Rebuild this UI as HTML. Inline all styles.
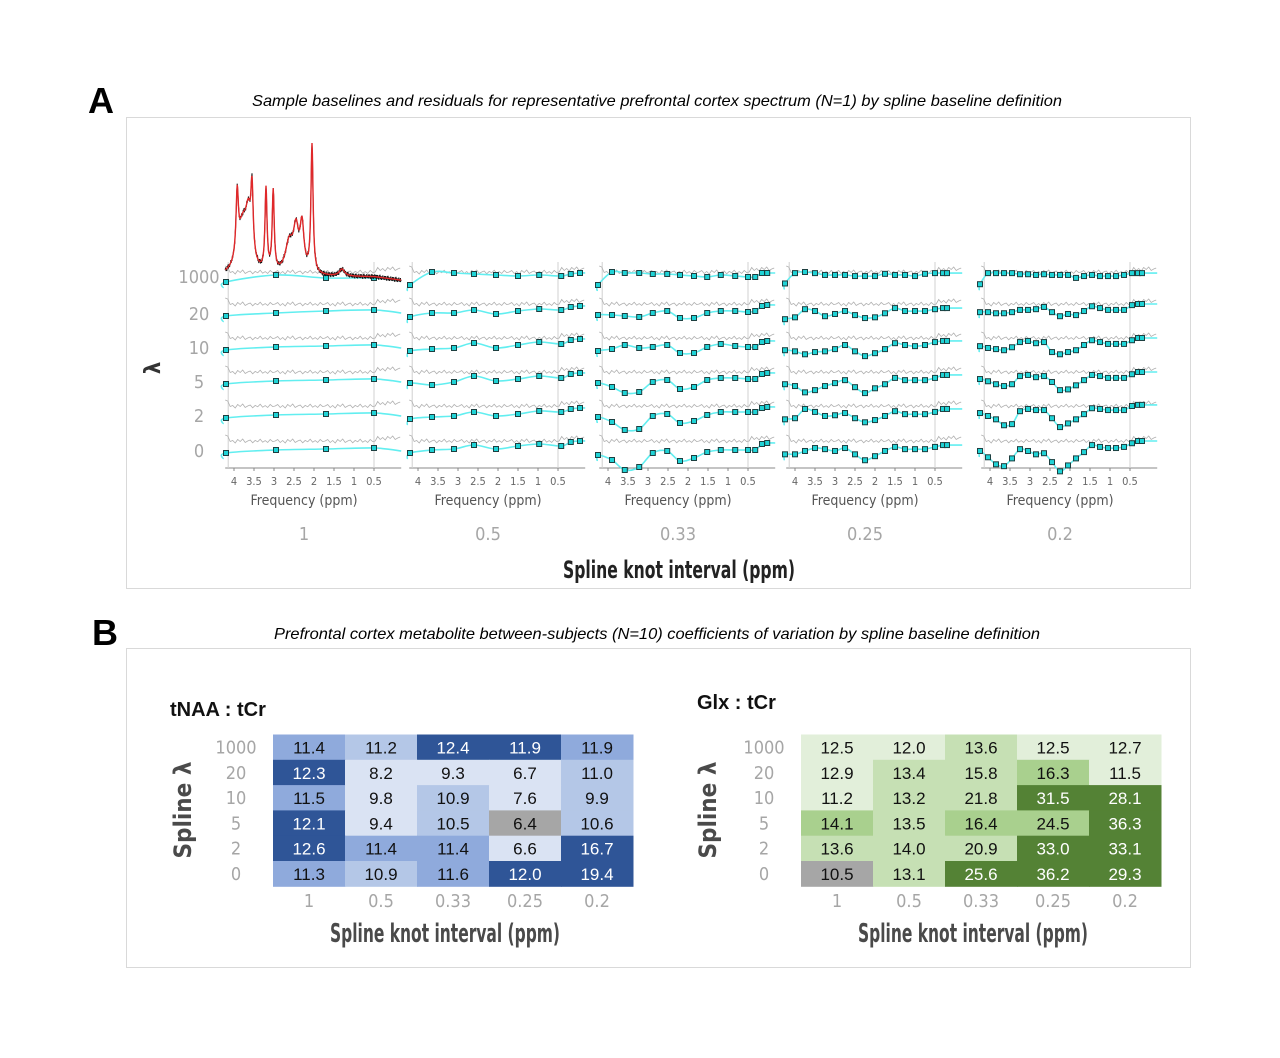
<!DOCTYPE html>
<html><head><meta charset="utf-8"><style>
html,body{margin:0;padding:0;background:#fff;}
svg{display:block;}
.nar{font-family:"Liberation Sans Narrow","DejaVu Sans Condensed","Liberation Sans",sans-serif;}
</style></head><body>
<svg id="fig" width="1280" height="1058" viewBox="0 0 1280 1058" xmlns="http://www.w3.org/2000/svg">
<rect width="1280" height="1058" fill="#fff"/>
<text x="88" y="113" font-family="Liberation Sans,sans-serif" font-weight="bold" font-size="36">A</text>
<text x="657" y="106" text-anchor="middle" font-family="Liberation Sans,sans-serif" font-style="italic" font-size="16" textLength="810" lengthAdjust="spacingAndGlyphs">Sample baselines and residuals for representative prefrontal cortex spectrum (N=1) by spline baseline definition</text>
<rect x="126.5" y="117.5" width="1064" height="471" fill="none" stroke="#d9d9d9"/>
<text x="92" y="645" font-family="Liberation Sans,sans-serif" font-weight="bold" font-size="36">B</text>
<text x="657" y="639" text-anchor="middle" font-family="Liberation Sans,sans-serif" font-style="italic" font-size="16" textLength="766" lengthAdjust="spacingAndGlyphs">Prefrontal cortex metabolite between-subjects (N=10) coefficients of variation by spline baseline definition</text>
<rect x="126.5" y="648.5" width="1064" height="319" fill="none" stroke="#d9d9d9"/>
<g id="ga"></g>
<g id="gb"></g>
</svg>
<script>
// ---------- Panel A data ----------
const intervals = ["1","0.5","0.33","0.25","0.2"];
const lambdas = ["1000","20","10","5","2","0"];
const freqTicks = [4,3.5,3,2.5,2,1.5,1,0.5];
const knotsP1 = [4.2,2.95,1.7,0.5];
const knotsP2 = [4.2,3.65,3.1,2.6,2.05,1.5,0.97,0.42,0.18,-0.05];
const knotsP3 = [4.25,3.9,3.58,3.22,2.88,2.52,2.2,1.85,1.52,1.18,0.82,0.5,0.32,0.15,0.02];
const knotsP4 = [4.25,4.0,3.75,3.5,3.25,3.0,2.75,2.5,2.25,2.0,1.75,1.5,1.25,1.0,0.75,0.5,0.3,0.2];
const knotsP5 = [4.25,4.05,3.85,3.65,3.45,3.25,3.05,2.85,2.65,2.45,2.25,2.05,1.85,1.65,1.45,1.25,1.05,0.85,0.65,0.45,0.3,0.2];
const baseP1 = [[10,3,6,6],[12,9,7,6],[12,9,8,7],[12,9,8,7],[12,9,8,7],[12,9,8,7]];
const baseP2 = [[13,0,1,2,3,4,3,4,2,1],[13,9,9,6,10,7,5,6,3,2],[13,11,10,5,10,7,4,6,2,1],[11,13,10,4,9,7,4,6,2,1],[13,11,10,6,10,8,5,6,3,2],[12,9,8,4,8,5,3,5,1,0]];
const baseP3 = [[13,0,1,1,2,2,3,4,5,3,4,5,5,1,1],[11,11,12,13,9,7,14,14,9,7,7,8,7,2,1],[13,11,7,10,9,7,15,15,9,6,8,9,9,4,3],[11,15,21,20,10,8,17,15,8,6,6,7,7,2,1],[11,16,24,23,10,8,17,15,9,6,6,6,6,2,1],[14,19,29,26,12,10,20,17,11,9,9,9,9,3,2]];
const baseP4 = [[31,3,0,3,8,8,8,11,11,11,5,8,8,11,5,3,3,3],[41,36,14,19,33,27,19,30,38,36,25,11,19,19,19,14,11,11],[33,36,44,38,36,30,19,36,49,41,30,14,19,22,19,11,8,8],[33,38,55,49,38,30,22,41,57,44,33,16,22,22,22,16,8,8],[36,33,8,16,27,25,19,33,44,38,27,14,22,22,22,16,8,8],[36,36,27,19,22,27,19,36,52,41,27,16,22,22,22,16,11,11]];
const baseP5 = [[33,3,3,3,3,6,6,8,6,8,8,8,16,11,8,11,11,11,8,3,3,3],[22,22,25,25,22,16,16,14,8,22,33,27,30,19,6,11,16,16,16,3,0,0],[22,27,30,33,25,11,8,14,11,38,44,38,33,19,6,11,16,16,16,6,0,0],[19,25,33,38,33,11,8,14,11,27,49,47,36,22,8,11,16,16,16,6,0,0],[19,27,36,52,49,14,8,11,11,33,57,47,36,22,6,8,11,11,11,0,-3,-3],[27,44,63,68,47,22,27,36,33,57,82,66,47,30,11,16,19,19,16,6,0,0]];
const knotSets = [knotsP1,knotsP2,knotsP3,knotsP4,knotsP5];
const baseSets = [baseP1,baseP2,baseP3,baseP4,baseP5];
const residPattern = [0,-1.5,1.5,-0.5,2,-1.5,0.5,-2,1.5,0,-1,1.8,-0.6,0.8,-1.8,1.2,-0.4,1.5,-1.5,0.6];
const peakPpm = [3.92,3.78,3.55,3.64,3.2,3.02,2.62,2.45,2.3,2.05,1.3];
const peakHeight = [62,48,66,42,82,80,30,40,45,128,7];
const peakWidth = [0.035,0.15,0.035,0.08,0.03,0.03,0.12,0.08,0.06,0.032,0.08];

const NS="http://www.w3.org/2000/svg";
function mk(tag,attrs,parent){const e=document.createElementNS(NS,tag);for(const k in attrs)e.setAttribute(k,attrs[k]);parent.appendChild(e);return e;}
const ga=document.getElementById('ga');
const x4 = [234,418,608,795,990];
const pxPerPpm = 40;
const unit = [1,1,1,0.37,0.37];
const rowRef = [272,304,338,372,406,441];
const axisY = 468;
function xOf(p,ppm){return x4[p]+(4-ppm)*pxPerPpm;}
function yOf(p,r,v){return rowRef[r]+v*unit[p];}
function smooth(pts){let d=`M${pts[0][0]},${pts[0][1]}`;for(let i=0;i<pts.length-1;i++){const p0=pts[Math.max(0,i-1)],p1=pts[i],p2=pts[i+1],p3=pts[Math.min(pts.length-1,i+2)];d+=` C${p1[0]+(p2[0]-p0[0])/6},${p1[1]+(p2[1]-p0[1])/6} ${p2[0]-(p3[0]-p1[0])/6},${p2[1]-(p3[1]-p1[1])/6} ${p2[0]},${p2[1]}`;}return d;}

lambdas.forEach((l,r)=>{
  const t=mk('text',{x:199,y:rowRef[r]+(r==0?11:16),'text-anchor':'middle','font-size':18,fill:'#a6a6a6',class:'nar'},ga);
  
  
  t.textContent=l;
});
const lam=mk('text',{x:0,y:0,'font-size':22,'font-weight':'bold',fill:'#333','text-anchor':'middle',transform:'translate(160,368) rotate(-90)',class:'nar'},ga);


lam.textContent='λ';

for(let p=0;p<5;p++){
  const g=mk('g',{},ga);
  
  
  const L=xOf(p,4.22), R=xOf(p,-0.18);
  mk('line',{x1:L,y1:axisY,x2:R,y2:axisY,stroke:'#888','stroke-width':1},g);
  mk('line',{x1:L+3,y1:262,x2:L+3,y2:axisY,stroke:'#d0d0d0','stroke-width':1},g);
  mk('line',{x1:xOf(p,0.5),y1:262,x2:xOf(p,0.5),y2:axisY,stroke:'#d0d0d0','stroke-width':1},g);
  freqTicks.forEach(f=>{
    const x=xOf(p,f);
    mk('line',{x1:x,y1:axisY,x2:x,y2:axisY+3,stroke:'#888'},g);
    const t=mk('text',{x:x,y:485,'text-anchor':'middle','font-size':11,fill:'#666',class:'nar'},g);
    
    
    t.textContent=String(f);
  });
  const cx=(xOf(p,4)+xOf(p,0.5))/2;
  const ft=mk('text',{x:cx,y:505,'text-anchor':'middle','font-size':14,fill:'#555',class:'nar'},g);
  
  
  ft.textContent='Frequency (ppm)';
  const it=mk('text',{x:cx,y:540,'text-anchor':'middle','font-size':18,fill:'#a6a6a6',class:'nar'},g);
  
  
  it.textContent=intervals[p];
  for(let r=0;r<6;r++){
    let pts=[];let n=0;
    for(let x=L;x<=R;x+=2.5){
      let v=residPattern[n%residPattern.length]; n++;
      let extra=0;
      if(x<L+6) extra=-6+(x-L);
      if(x>xOf(p,0.45)) extra=-3;
      pts.push(`${x.toFixed(1)},${(rowRef[r]+v+extra).toFixed(1)}`);
    }
    const res=mk('polyline',{points:pts.join(' '),fill:'none',stroke:'#b0b0b0','stroke-width':0.8},g);
    
    
    const ks=knotSets[p], vs=baseSets[p][r];
    const kp=ks.map((k,i)=>[xOf(p,k),yOf(p,r,vs[i])]);
    const full=[[L-2,kp[0][1]+6]].concat(kp).concat([[R,kp[kp.length-1][1]+(p==0?3:0)]]);
    const bl=mk('path',{d:smooth(full),fill:'none',stroke:'#62eef0','stroke-width':1.6},g);
    
    
    kp.forEach(q=>{
      const k=mk('rect',{x:q[0]-2.5,y:q[1]-2.5,width:5,height:5,fill:'#1fd3d6',stroke:'#1d3f40','stroke-width':1},g);
      
      
    });
  }
  if(p==0){
    let sp=[],bk=[];let n=0;
    for(let ppm=4.22;ppm>=-0.18;ppm-=0.01){
      let s=0;for(let i=0;i<peakPpm.length;i++){const d=(ppm-peakPpm[i])/peakWidth[i];s+=peakHeight[i]/(1+d*d);}
      const x=xOf(0,ppm), y=277-s+ (ppm<0.5?(0.5-ppm)*5:0);
      sp.push(`${x.toFixed(1)},${y.toFixed(1)}`);
      bk.push(`${x.toFixed(1)},${(y+residPattern[n%residPattern.length]*1.3).toFixed(1)}`);n++;
    }
    const b=mk('polyline',{points:bk.join(' '),fill:'none',stroke:'#111','stroke-width':1},g);
    
    
    const s=mk('polyline',{points:sp.join(' '),fill:'none',stroke:'#e0282a','stroke-width':1.4},g);
    
    
  }
}
const at=mk('text',{x:679,y:578,'text-anchor':'middle','font-size':24,fill:'#222',class:'nar','font-weight':'bold',textLength:232,lengthAdjust:'spacingAndGlyphs'},ga);


at.textContent='Spline knot interval (ppm)';
</script>
<script>
// ---------- Panel B data ----------
const colLabels = ["1","0.5","0.33","0.25","0.2"];
const rowLabels = ["1000","20","10","5","2","0"];
const tnaaValues = [[11.4,11.2,12.4,11.9,11.9],[12.3,8.2,9.3,6.7,11.0],[11.5,9.8,10.9,7.6,9.9],[12.1,9.4,10.5,6.4,10.6],[12.6,11.4,11.4,6.6,16.7],[11.3,10.9,11.6,12.0,19.4]];
const tnaaLevels = [[2,1,3,3,2],[3,0,0,0,1],[2,0,1,0,1],[3,0,1,-1,1],[3,2,2,0,3],[2,1,2,3,3]];
const glxValues = [[12.5,12.0,13.6,12.5,12.7],[12.9,13.4,15.8,16.3,11.5],[11.2,13.2,21.8,31.5,28.1],[14.1,13.5,16.4,24.5,36.3],[13.6,14.0,20.9,33.0,33.1],[10.5,13.1,25.6,36.2,29.3]];
const glxLevels = [[0,0,1,0,0],[0,1,1,2,0],[0,1,1,3,3],[2,1,2,2,3],[1,1,1,3,3],[-1,1,3,3,3]];
const blues=['#dae3f3','#b4c7e7','#8faadc','#2f5597'];
const greens=['#e2efda','#c6e0b4','#a9d08e','#548235'];
const gb=document.getElementById('gb');
function mk2(tag,attrs){const e=document.createElementNS("http://www.w3.org/2000/svg",tag);for(const k in attrs)e.setAttribute(k,attrs[k]);gb.appendChild(e);return e;}
function heat(name,title,tx,ty,x0,vals,lv,pal,rlx,slx){
  const cw=72, ch=25.3, y0=734.5;
  const t=mk2('text',{x:tx,y:ty,'font-family':'Liberation Sans,sans-serif','font-weight':'bold','font-size':20,fill:'#111'});
  
  
  t.textContent=title;
  for(let r=0;r<vals.length;r++){for(let c=0;c<vals[r].length;c++){
    const l=lv[r][c];
    const fill=l<0?'#a6a6a6':pal[l];
    const rc=mk2('rect',{x:x0+c*cw,y:y0+r*ch,width:cw+0.5,height:ch+0.5,fill:fill});
    
    
    const tt=mk2('text',{x:x0+c*cw+cw/2,y:y0+r*ch+19,'text-anchor':'middle','font-family':'Liberation Sans,sans-serif','font-size':17,fill:l==3?'#fff':'#111'});
    
    
    tt.textContent=vals[r][c].toFixed(1);
  }}
  rowLabels.forEach((s,r)=>{
    const e=mk2('text',{x:rlx,y:y0+r*ch+19,'text-anchor':'middle','font-size':18,fill:'#a6a6a6',class:'nar'});
    
    
    e.textContent=s;
  });
  colLabels.forEach((s,c)=>{
    const e=mk2('text',{x:x0+c*cw+cw/2,y:907,'text-anchor':'middle','font-size':18,fill:'#a6a6a6',class:'nar'});
    
    
    e.textContent=s;
  });
  const xt=mk2('text',{x:x0+172,y:942,'text-anchor':'middle','font-size':26,fill:'#4a4a4a','font-weight':'bold',class:'nar',textLength:230,lengthAdjust:'spacingAndGlyphs'});
  
  
  xt.textContent='Spline knot interval (ppm)';
  const yt=mk2('text',{x:0,y:0,'text-anchor':'middle','font-size':24,fill:'#4a4a4a','font-weight':'bold',class:'nar',transform:`translate(${slx},810) rotate(-90)`});
  
  
  yt.textContent='Spline λ';
}
heat('tnaa-heatmap','tNAA : tCr',170,716,273,tnaaValues,tnaaLevels,blues,236,191);
heat('glx-heatmap','Glx : tCr',697,709,801,glxValues,glxLevels,greens,764,716);
</script>
</body></html>
